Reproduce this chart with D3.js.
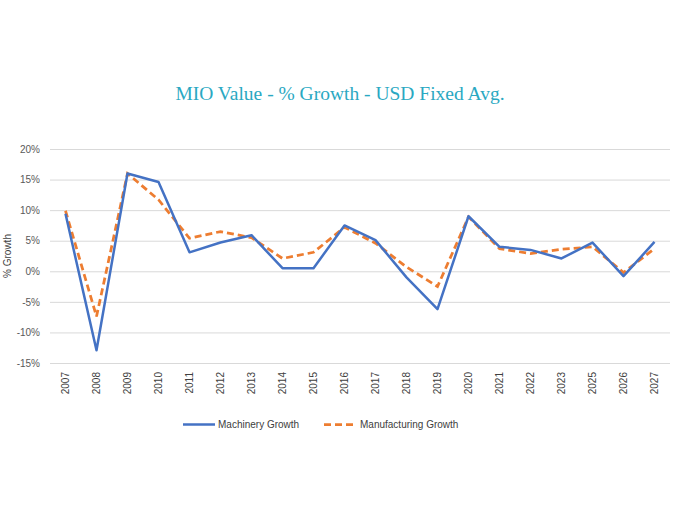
<!DOCTYPE html>
<html>
<head>
<meta charset="utf-8">
<script src="https://cdn.jsdelivr.net/npm/d3@7"></script>
<style>
  html, body { margin: 0; padding: 0; background: #fff; }
  svg { display: block; }
</style>
</head>
<body>
<svg id="chart" width="680" height="520"></svg>
<script>
const years = ["2007","2008","2009","2010","2011","2012","2013","2014","2015","2016","2017","2018","2019","2020","2021","2022","2023","2025","2026","2027"];
const machineryGrowth = [9.4, -12.9, 16.0, 14.6, 3.1, 4.7, 5.9, 0.5, 0.5, 7.5, 5.1, -1.0, -6.2, 9.0, 4.0, 3.5, 2.1, 4.7, -0.8, 4.8];
const manufacturingGrowth = [9.9, -7.4, 16.0, 11.7, 5.4, 6.5, 5.5, 2.1, 3.1, 7.2, 4.6, 0.7, -2.5, 8.9, 3.7, 2.9, 3.6, 4.0, -0.2, 3.7];
const yTicks = [-15, -10, -5, 0, 5, 10, 15, 20];
const seriesNames = ["Machinery Growth", "Manufacturing Growth"];
const titleText = "MIO Value - % Growth - USD Fixed Avg.";
const yAxisTitle = "% Growth";

const svg = d3.select("#chart");
const plotLeft = 50, plotRight = 670, plotTop = 149, plotBottom = 363;

const x = d3.scaleBand().domain(years).range([plotLeft, plotRight]);
const y = d3.scaleLinear().domain([-15, 20]).range([plotBottom, plotTop]);

// Title
svg.append("text")
  .attr("x", 340).attr("y", 100)
  .attr("text-anchor", "middle")
  .attr("font-family", "'Liberation Serif', 'DejaVu Serif', serif")
  .attr("font-size", 19.5)
  .attr("fill", "#2AA8C2")
  .text(titleText);

// Gridlines + y labels
const yAxis = d3.axisLeft(y).tickValues(yTicks).tickSize(-(plotRight - plotLeft)).tickFormat(d => d + "%");
const gY = svg.append("g").attr("transform", `translate(${plotLeft},0)`).call(yAxis);
gY.select(".domain").remove();
gY.selectAll(".tick line").attr("stroke", "#D9D9D9").attr("stroke-width", 1);
gY.selectAll(".tick text")
  .attr("x", -10)
  .attr("font-family", "'Liberation Sans', Arial, sans-serif")
  .attr("font-size", 10)
  .attr("fill", "#595959");

// X axis labels
const xAxis = d3.axisBottom(x).tickSize(0);
const gX = svg.append("g").attr("transform", `translate(0,${plotBottom})`).call(xAxis);
gX.select(".domain").remove();
gX.selectAll(".tick text")
  .attr("transform", "rotate(-90)")
  .attr("text-anchor", "end")
  .attr("x", -9)
  .attr("y", 0)
  .attr("dy", "0.35em")
  .attr("font-family", "'Liberation Sans', Arial, sans-serif")
  .attr("font-size", 10)
  .attr("fill", "#404040");

// Y axis title
svg.append("text")
  .attr("transform", "translate(11,256) rotate(-90)")
  .attr("text-anchor", "middle")
  .attr("font-family", "'Liberation Sans', Arial, sans-serif")
  .attr("font-size", 10)
  .attr("fill", "#404040")
  .text(yAxisTitle);

const line = d3.line()
  .x((d, i) => x(years[i]) + x.bandwidth() / 2)
  .y(d => y(d));

svg.append("path")
  .datum(manufacturingGrowth)
  .attr("fill", "none")
  .attr("stroke", "#ED7D31")
  .attr("stroke-width", 2.75)
  .attr("stroke-dasharray", "7,4")
  .attr("d", line);

svg.append("path")
  .datum(machineryGrowth)
  .attr("fill", "none")
  .attr("stroke", "#4472C4")
  .attr("stroke-width", 2.5)
  .attr("stroke-linejoin", "round")
  .attr("d", line);

// Legend
const legend = svg.append("g").attr("font-family", "'Liberation Sans', Arial, sans-serif").attr("font-size", 10).attr("fill", "#404040");
legend.append("line").attr("x1", 183).attr("x2", 215).attr("y1", 424.5).attr("y2", 424.5)
  .attr("stroke", "#4472C4").attr("stroke-width", 2.5);
legend.append("text").attr("x", 218).attr("y", 428).text(seriesNames[0]);
legend.append("line").attr("x1", 324).attr("x2", 354).attr("y1", 424.5).attr("y2", 424.5)
  .attr("stroke", "#ED7D31").attr("stroke-width", 2.75).attr("stroke-dasharray", "7,4");
legend.append("text").attr("x", 360).attr("y", 428).text(seriesNames[1]);
</script>
</body>
</html>
